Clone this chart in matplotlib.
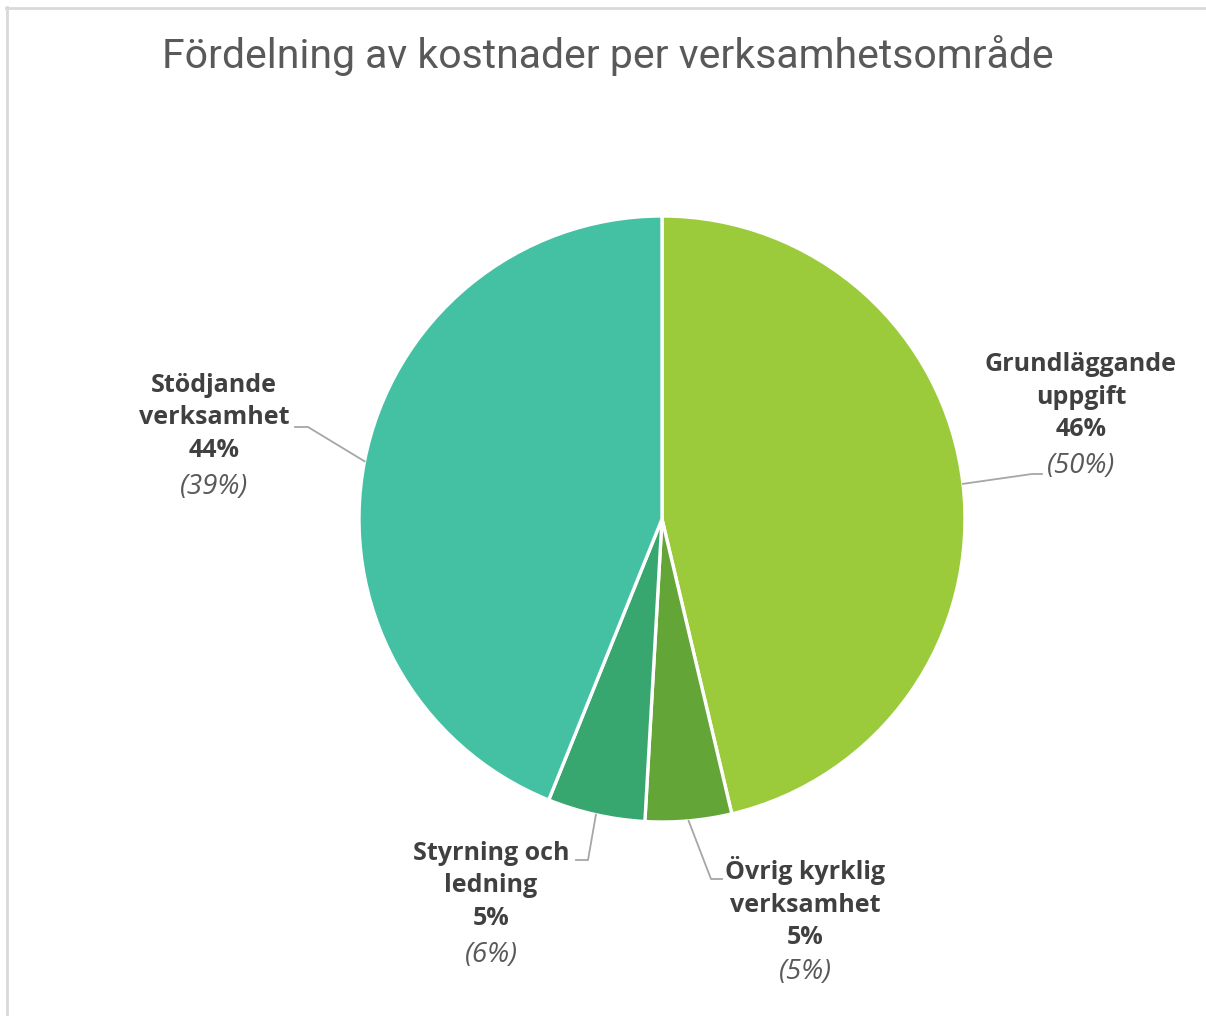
import matplotlib.pyplot as plt
from matplotlib.lines import Line2D
import numpy as np

# data
categories = ['Grundläggande\nuppgift', 'Övrig kyrklig\nverksamhet',
              'Styrning och\nledning', 'Stödjande\nverksamhet']
shares = [46.3, 4.6, 5.2, 43.9]          # share of costs, %
prev_year = ['(50%)', '(5%)', '(6%)', '(39%)']
colors = ['#9BCB3B', '#63A537', '#37A66F', '#44C1A3']

W, H = 1206, 1016
cx, cy, R = 662, 519, 303   # pie centre / radius in pixels

fig = plt.figure(figsize=(W / 100, H / 100), dpi=100)
ax = fig.add_axes([0, 0, 1, 1])

wedges, _ = ax.pie(shares, colors=colors, startangle=90, counterclock=False,
                   radius=1, wedgeprops=dict(edgecolor='white', linewidth=2.4))
ax.set_xlim(-cx / R, (W - cx) / R)
ax.set_ylim(-(H - cy) / R, cy / R)
ax.set_aspect('equal')
ax.axis('off')

def px(x, y):
    return (x - cx) / R, (cy - y) / R

# label placement (pixel centre of label block, leader end, leader elbow)
label_pos = [(1081, 415), (805, 921), (491, 904), (214, 436)]
leader_end = [(1042, 474), (722, 879), (576, 860), (295, 427)]
leader_elbow = [(1032, 474), (711, 879), (588, 860), (308, 427)]

for w, cat, pct, prev, lp, le, lb in zip(wedges, categories, shares, prev_year,
                                         label_pos, leader_end, leader_elbow):
    mid = np.deg2rad((w.theta1 + w.theta2) / 2)
    ax_, ay_ = np.cos(mid) * w.r, np.sin(mid) * w.r
    ex, ey = px(*lb)
    fx, fy = px(*le)
    ax.add_line(Line2D([ax_, ex, fx], [ay_, ey, fy], color='#A6A6A6', lw=1.3))
    tx, ty = px(*lp)
    ax.text(tx, ty + 18 / R, f'{cat}\n{pct:.0f}%', ha='center', va='center',
            fontsize=18, fontweight='bold', color='#404040',
            family='Open Sans', linespacing=1.42)
    ax.text(tx, ty - 51 / R, prev, ha='center', va='center', fontsize=20,
            style='italic', color='#595959', family='Open Sans')

fig.text(608 / W, 1 - 55 / H, 'Fördelning av kostnader per verksamhetsområde',
         ha='center', va='center', fontsize=29.5, color='#595959',
         family=['Roboto', 'DejaVu Sans'])

# chart frame
fig.add_artist(Line2D([6 / W, 1], [1 - 7.5 / H] * 2, color='#D9D9D9', lw=2,
                      transform=fig.transFigure))
fig.add_artist(Line2D([6.5 / W] * 2, [0, 1 - 7 / H], color='#D9D9D9', lw=2,
                      transform=fig.transFigure))

fig.savefig('out.png', dpi=100, facecolor='white')
